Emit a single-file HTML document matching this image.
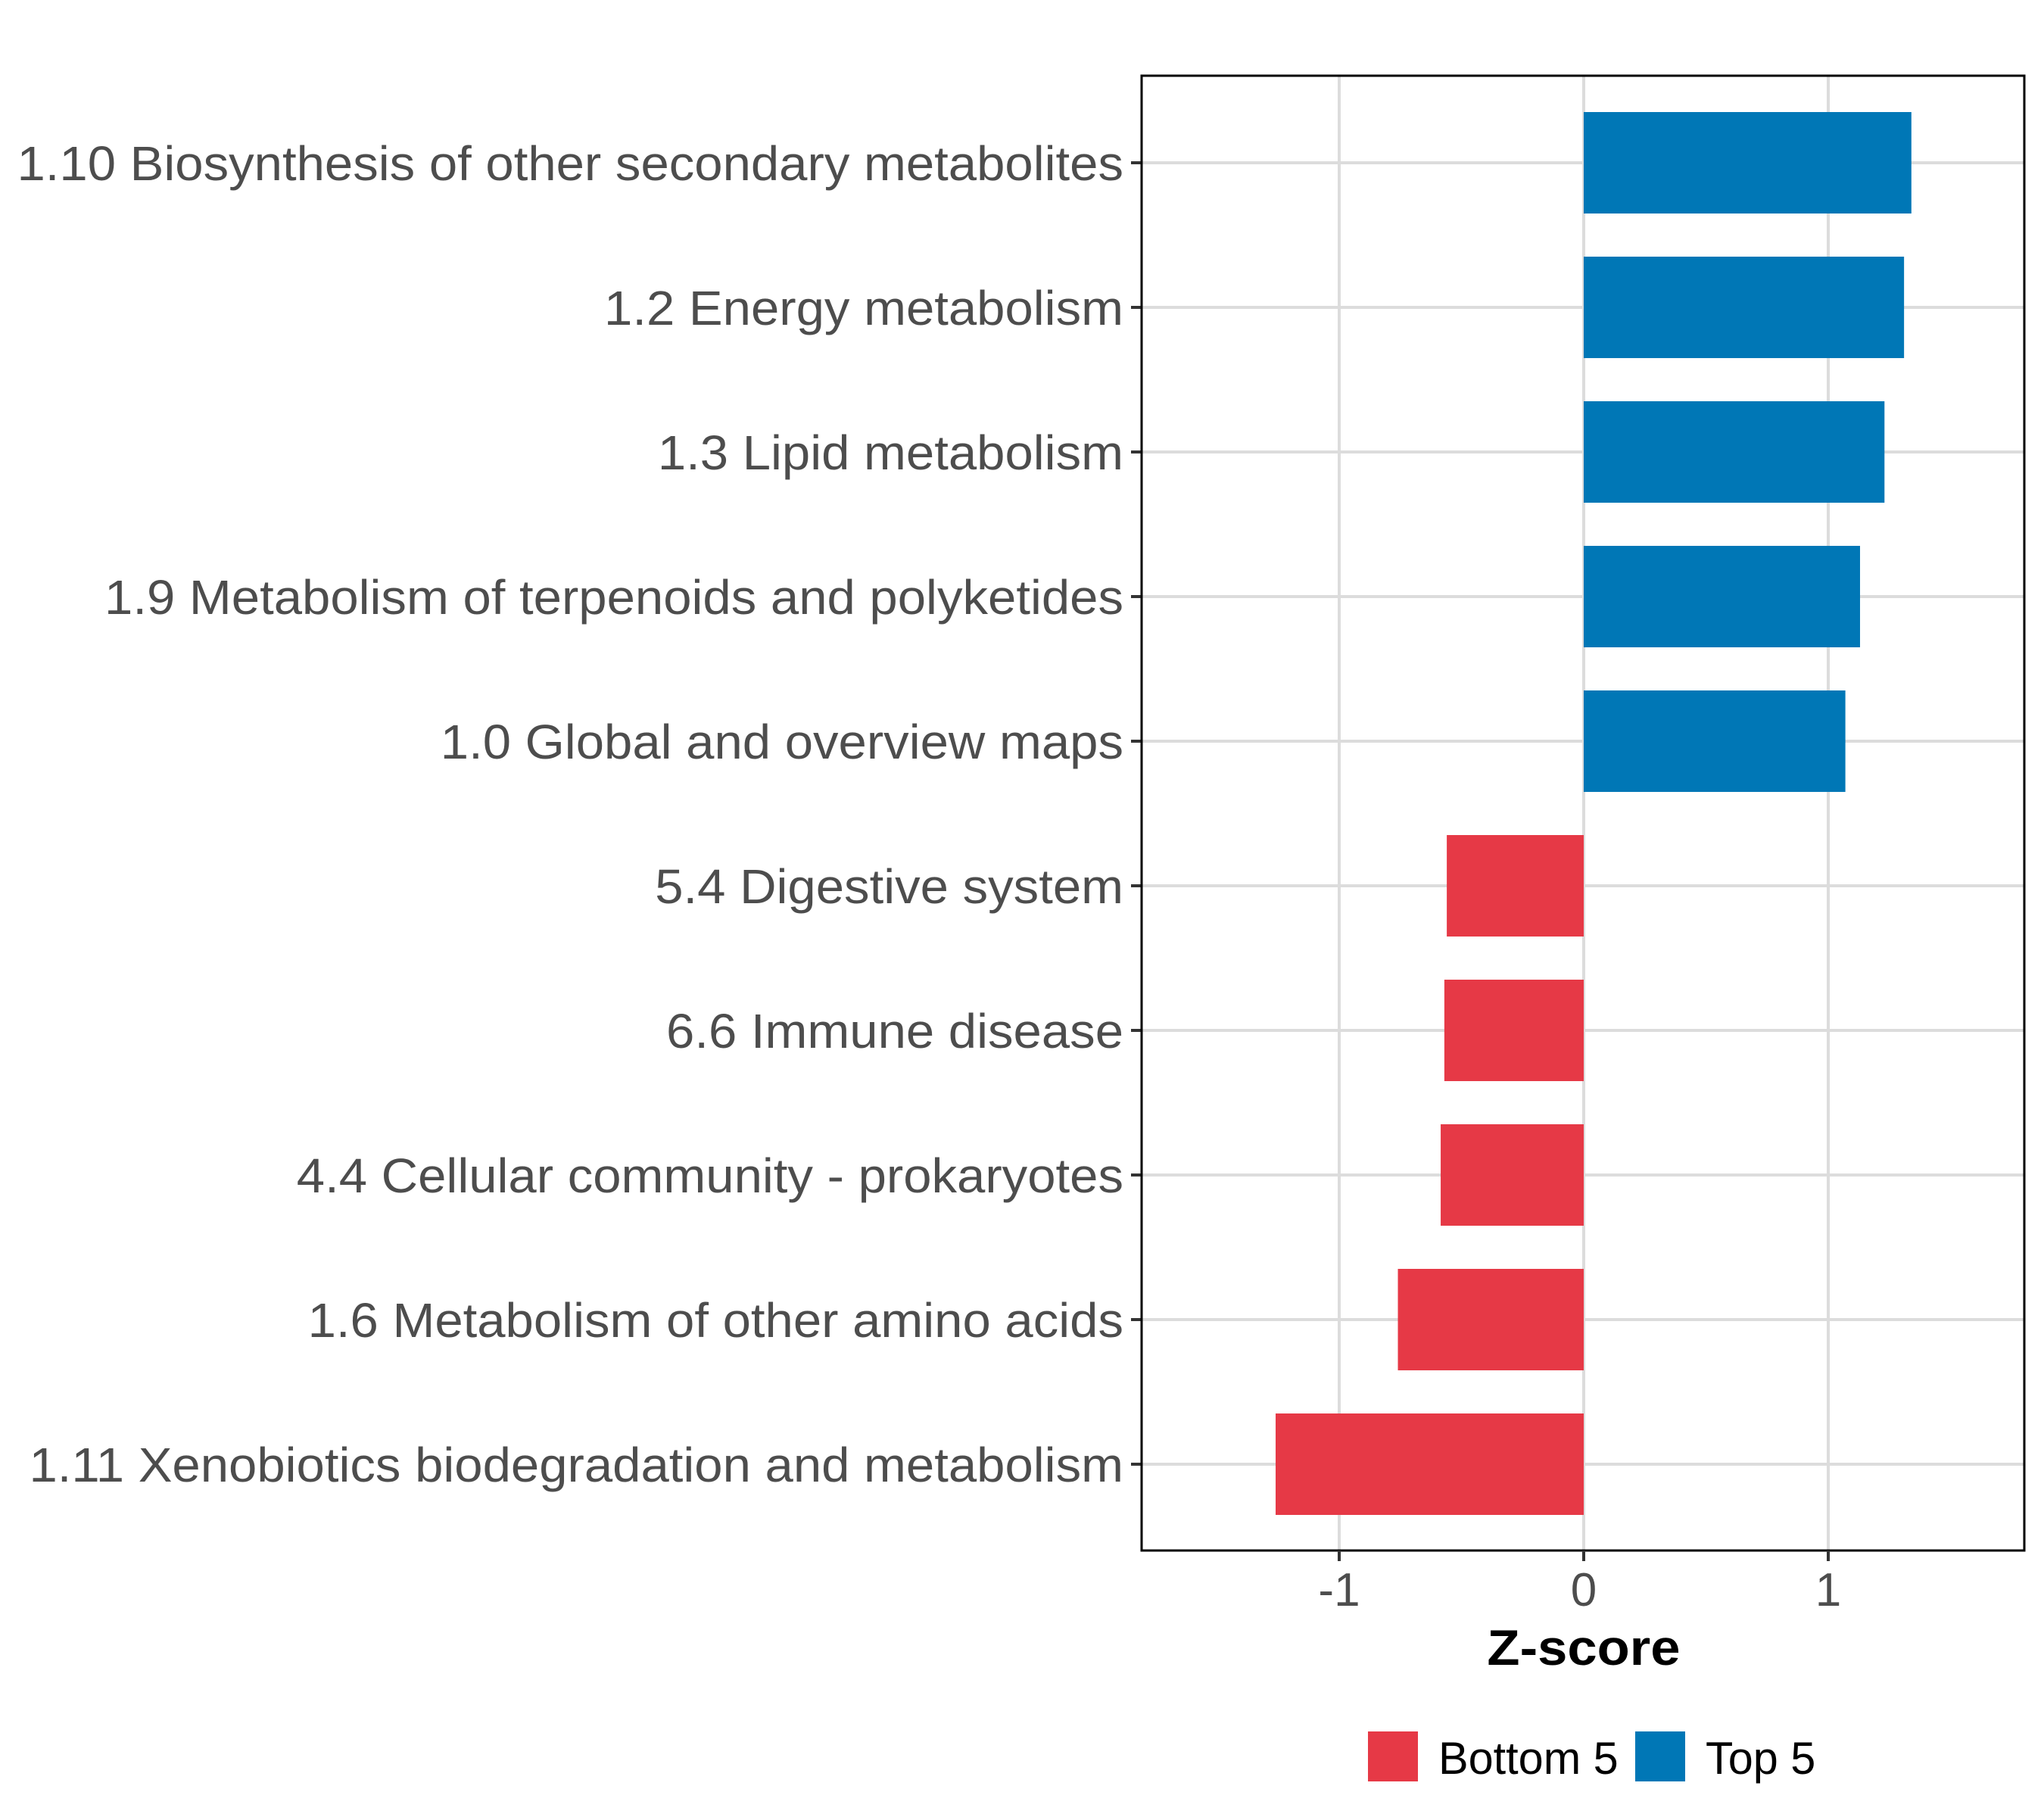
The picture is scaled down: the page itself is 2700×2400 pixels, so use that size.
<!DOCTYPE html>
<html><head><meta charset="utf-8"><style>body{margin:0;background:#fff}svg{display:block}</style></head>
<body>
<svg id="chart" width="2700" height="2400" xmlns="http://www.w3.org/2000/svg" font-family="Liberation Sans, sans-serif"></svg>
<script>
const categories = ["1.10 Biosynthesis of other secondary metabolites","1.2 Energy metabolism","1.3 Lipid metabolism","1.9 Metabolism of terpenoids and polyketides","1.0 Global and overview maps","5.4 Digestive system","6.6 Immune disease","4.4 Cellular community - prokaryotes","1.6 Metabolism of other amino acids","1.11 Xenobiotics biodegradation and metabolism"];
const values = [1.34,1.31,1.23,1.13,1.07,-0.56,-0.57,-0.585,-0.76,-1.26];
const groups = ["Top 5","Top 5","Top 5","Top 5","Top 5","Bottom 5","Bottom 5","Bottom 5","Bottom 5","Bottom 5"];
const xTicks = [-1,0,1];
const xTickLabels = ["-1","0","1"];
const legendLabels = ["Bottom 5","Top 5"];

const colors = {"Top 5":"#0077b6","Bottom 5":"#e63946"};
const NS="http://www.w3.org/2000/svg";
const svg=document.getElementById('chart');
const L=1508,R=2674,T=100,B=2048;
const x0=2092, unit=323;
const xs=v=>x0+v*unit;
const y0=215, step=191, bh=134;
const ys=i=>y0+i*step;
function el(tag,attrs,parent){const e=document.createElementNS(NS,tag);for(const k in attrs)e.setAttribute(k,attrs[k]);(parent||svg).appendChild(e);return e;}
function stretch(t,f){const len=t.getComputedTextLength();t.setAttribute('textLength',len*f);t.setAttribute('lengthAdjust','spacingAndGlyphs');}

el('rect',{x:L,y:T,width:R-L,height:B-T,fill:'#fff'});
xTicks.forEach((t,i)=>{
  const g=el('line',{x1:xs(t),x2:xs(t),y1:T,y2:B,stroke:'#dcdcdc','stroke-width':4});
  
  
});
categories.forEach((c,i)=>{
  const g=el('line',{x1:L,x2:R,y1:ys(i),y2:ys(i),stroke:'#dcdcdc','stroke-width':4});
  
  
});
categories.forEach((c,i)=>{
  const v=values[i];
  const r=el('rect',{x:Math.min(xs(0),xs(v)),y:ys(i)-bh/2,width:Math.abs(xs(v)-xs(0)),height:bh,fill:colors[groups[i]]});
  
  
  const tk=el('line',{x1:L-14,x2:L,y1:ys(i),y2:ys(i),stroke:'#333','stroke-width':4});
  
  
  const t=el('text',{x:L-24,y:ys(i)+23,'text-anchor':'end','font-size':64,fill:'#4d4d4d'});
  t.textContent=c;
  
  
  stretch(t,1.048);
});
const border=el('rect',{x:L,y:T,width:R-L,height:B-T,fill:'none',stroke:'#000','stroke-width':3});


xTicks.forEach((t,i)=>{
  const tk=el('line',{x1:xs(t),x2:xs(t),y1:B,y2:B+14,stroke:'#333','stroke-width':4});
  
  
  const lb=el('text',{x:xs(t),y:2121,'text-anchor':'middle','font-size':62,fill:'#4d4d4d'});
  lb.textContent=xTickLabels[i];
  
  
});
const xt=el('text',{x:xs(0),y:2199,'text-anchor':'middle','font-size':66,'font-weight':'bold',fill:'#000'});
xt.textContent='Z-score';


stretch(xt,1.07);
const lx=[1807,2160], tx=[1900,2253];
legendLabels.forEach((l,i)=>{
  const k=el('rect',{x:lx[i],y:2287,width:66,height:66,fill:colors[l]});
  
  
  const t=el('text',{x:tx[i],y:2343,'font-size':60,fill:'#000'});
  t.textContent=l;
  
  
  stretch(t,0.99);
});
</script>
</body></html>
